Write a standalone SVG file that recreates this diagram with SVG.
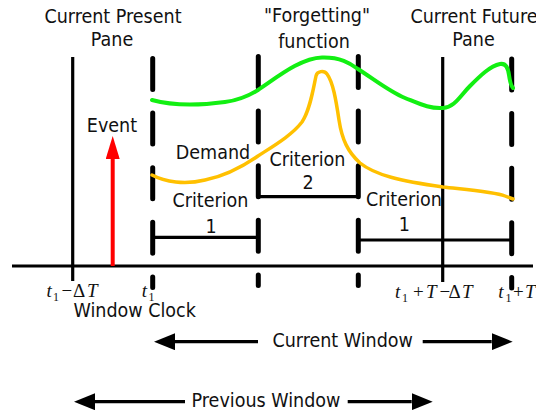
<svg xmlns="http://www.w3.org/2000/svg" width="536" height="415" viewBox="0 0 536 415">
<style>
.lbl{font-family:"DejaVu Sans Condensed","Liberation Sans",sans-serif;font-size:19.5px;fill:#111;text-anchor:middle}
.math{font-family:"Liberation Serif","Times New Roman",serif;font-size:19px;fill:#111}
.it{font-style:italic}
.sub{font-size:12px}
.solid{stroke:#000;stroke-width:3.2;fill:none}
.dash{stroke:#000;stroke-width:5;stroke-linecap:round;stroke-dasharray:31 23.6;fill:none}
.bar{stroke:#000;stroke-width:3.2;fill:none;stroke-linecap:round;stroke-linejoin:round}
.arr{stroke:#000;stroke-width:3.2;fill:none;marker-end:url(#ah)}
.green{stroke:#12ef12;stroke-width:4;fill:none;stroke-linecap:round;stroke-linejoin:round}
.yellow{stroke:#ffc000;stroke-width:3.5;fill:none;stroke-linecap:round;stroke-linejoin:round}
</style>
<defs>
<marker id="ah" markerUnits="userSpaceOnUse" markerWidth="21" markerHeight="17" viewBox="0 0 21 17" refX="0" refY="8.5" orient="auto">
<path d="M0,0 L21,8.5 L0,17 Z" fill="#000"/>
</marker>
<marker id="rh" markerUnits="userSpaceOnUse" markerWidth="23" markerHeight="14" viewBox="0 0 23 14" refX="0" refY="7" orient="auto">
<path d="M0,0 L23,7 L0,14 Z" fill="#ff0000"/>
</marker>
</defs>
<g id="connectors">
<line id="axis" class="solid" x1="12" y1="266" x2="533" y2="266"/>
<line id="line-t1-dT" class="solid" x1="72.7" y1="57" x2="72.7" y2="281"/>
<line id="line-t1-T-dT" class="solid" x1="442.7" y1="57" x2="442.7" y2="282"/>
<line id="dash-t1" class="dash" x1="152.7" y1="58.5" x2="152.7" y2="287.5"/>
<line id="dash-2" class="dash" x1="258.3" y1="56.5" x2="258.3" y2="285.5"/>
<line id="dash-3" class="dash" x1="358.3" y1="56.5" x2="358.3" y2="285.5"/>
<line id="dash-t1-T" class="dash" x1="511.7" y1="59" x2="511.7" y2="288"/>
<line id="crit1-left" class="bar" x1="153" y1="237.3" x2="258" y2="237.3"/>
<polyline id="crit2" class="bar" points="258.3,190 258.3,196.7 358.3,196.7 358.3,190"/>
<line id="crit1-right" class="bar" x1="358" y1="240" x2="512" y2="240"/>
<line id="event-arrow" stroke="#ff0000" stroke-width="4" x1="112.7" y1="266" x2="112.7" y2="159" marker-end="url(#rh)"/>
<line id="cur-win-left" class="arr" x1="258" y1="341.7" x2="175" y2="341.7"/>
<line id="cur-win-right" class="arr" x1="422.7" y1="341.7" x2="491.7" y2="341.7"/>
<line id="prev-win-left" class="arr" x1="185" y1="401.7" x2="95" y2="401.7"/>
<line id="prev-win-right" class="arr" x1="347.7" y1="401.7" x2="411.7" y2="401.7"/>
<path id="forgetting-curve" class="green" d="M152,100 C170,105 195,106 225,102 C240,100 250,95 258,90 C275,79 300,58 322,57.5 C340,57 350,63 358,69 C375,80 390,92 405,98 C420,104 430,109 443,108 C455,107 460,96 470,86 C480,76 490,66 500,64 C506,63 508,68 509,75 C510,82 511,86 513,88"/>
<path id="demand-curve" class="yellow" d="M152,175 C165,182 185,185 205,180 C225,176 245,165 258,156 C275,145 292,135 302,122 C310,110 313,90 316,76 C317,71 324,70 327,74 C333,82 336,100 339,120 C342,140 348,152 360,163 C375,175 400,181 443,187 C470,190 495,192 505,196 L513,199"/>
</g>
<g id="label-present-pane"><text class="lbl" x="113" y="22.5">Current Present</text><text class="lbl" x="112" y="45.5">Pane</text></g>
<g id="label-forgetting"><text class="lbl" x="317" y="22">"Forgetting"</text><text class="lbl" x="314" y="48">function</text></g>
<g id="label-future-pane"><text class="lbl" x="474" y="22.5">Current Future</text><text class="lbl" x="473.5" y="45.5">Pane</text></g>
<g id="label-event"><text class="lbl" x="112" y="131.5">Event</text></g>
<g id="label-demand"><text class="lbl" x="213" y="159.3">Demand</text></g>
<g id="label-crit1-left"><text class="lbl" x="210.5" y="207.3">Criterion</text><text class="lbl" x="211" y="233.3">1</text></g>
<g id="label-crit2"><text class="lbl" x="307.5" y="166">Criterion</text><text class="lbl" x="308" y="189.3">2</text></g>
<g id="label-crit1-right"><text class="lbl" x="404" y="206">Criterion</text><text class="lbl" x="404.3" y="230.7">1</text></g>
<g id="label-window-clock"><text class="lbl" x="134.7" y="316.7">Window Clock</text></g>
<g id="label-current-window"><text class="lbl" x="342.7" y="346.7">Current Window</text></g>
<g id="label-previous-window"><text class="lbl" x="266" y="406.7">Previous Window</text></g>
<g id="tick-labels">
<text class="math" y="296.7"><tspan class="it" x="46.5">t</tspan><tspan class="sub" x="53" dy="4">1</tspan><tspan x="61.5" dy="-4">−</tspan><tspan x="73">Δ</tspan><tspan class="it" x="87">T</tspan></text>
<text class="math" y="296.5"><tspan class="it" x="141.7">t</tspan><tspan class="sub" x="148.5" dy="4">1</tspan></text>
<text class="math" y="298.3"><tspan class="it" x="395">t</tspan><tspan class="sub" x="402" dy="4">1</tspan><tspan x="413" dy="-4">+</tspan><tspan class="it" x="426">T</tspan><tspan x="439.5">−</tspan><tspan x="448.5">Δ</tspan><tspan class="it" x="462">T</tspan></text>
<text class="math" y="298.3"><tspan class="it" x="498.3">t</tspan><tspan class="sub" x="505.5" dy="4">1</tspan><tspan x="513" dy="-4">+</tspan><tspan class="it" x="525">T</tspan></text>
</g>
</svg>
